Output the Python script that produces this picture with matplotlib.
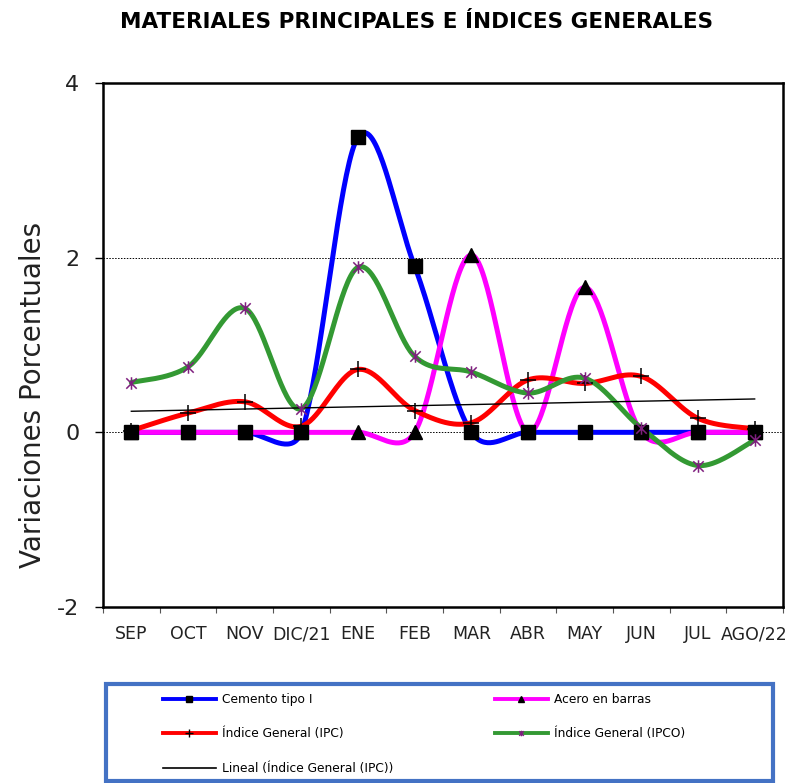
import numpy as np
import matplotlib
matplotlib.use("Agg")
import matplotlib.pyplot as plt
from matplotlib.path import Path
from matplotlib.lines import Line2D
from matplotlib.patches import Rectangle

meses = ["SEP", "OCT", "NOV", "DIC/21", "ENE", "FEB", "MAR", "ABR", "MAY", "JUN", "JUL", "AGO/22"]
cemento = [0, 0, 0, 0, 3.38, 1.90, 0, 0, 0, 0, 0, 0]
acero = [0, 0, 0, 0, 0, 0, 2.03, 0, 1.66, 0, 0, 0]
ipc = [0.02, 0.22, 0.35, 0.07, 0.72, 0.25, 0.11, 0.60, 0.56, 0.64, 0.16, 0.04]
ipco = [0.57, 0.75, 1.42, 0.27, 1.89, 0.87, 0.69, 0.45, 0.62, 0.05, -0.38, -0.09]
y_ticks = [-2, 0, 2, 4]

# pixel size of one unit on each axis, used so the smoothing works in screen space
SX, SY = 680 / 12, 524 / 6


def smooth(x, y, n=40):
    # excel-like smoothed line: catmull-rom bezier, arms capped at half the segment
    p = np.column_stack([np.asarray(x, float) * SX, np.asarray(y, float) * SY])
    p = np.vstack([p[0], p, p[-1]])
    t = np.linspace(0, 1, n)[:, None]
    out = []
    for i in range(1, len(p) - 2):
        p0, p3 = p[i], p[i + 1]
        seg = np.linalg.norm(p3 - p0)
        a1 = (p3 - p[i - 1]) / 6
        a2 = (p[i + 2] - p0) / 6
        for a in (a1, a2):
            la = np.linalg.norm(a)
            if la > seg / 2:
                a *= (seg / 2) / la
        c1 = p0 + a1
        c2 = p3 - a2
        b = (1 - t) ** 3 * p0 + 3 * (1 - t) ** 2 * t * c1 + 3 * (1 - t) * t ** 2 * c2 + t ** 3 * p3
        out.append(b)
    b = np.vstack(out)
    return b[:, 0] / SX, b[:, 1] / SY


# excel "star" marker: x plus a vertical bar
star = Path([(-1, -1), (1, 1), (-1, 1), (1, -1), (0, -1.2), (0, 1.2)],
            [Path.MOVETO, Path.LINETO, Path.MOVETO, Path.LINETO, Path.MOVETO, Path.LINETO])

x = np.arange(len(meses))
fig = plt.figure(figsize=(7.98, 7.83), dpi=100)
ax = fig.add_axes([103 / 798, 1 - 607 / 783, 680 / 798, 524 / 783])

series = [
    (cemento, "#0000FF", "s", 10.5),
    (acero, "#FF00FF", "^", 9.5),
    (ipc, "#FF0000", "+", 12),
    (ipco, "#339933", star, 9),
]
for vals, color, mk, ms in series:
    sx, sy = smooth(x, vals)
    ax.plot(sx, sy, color=color, lw=3.6, solid_capstyle="round", zorder=2)

# trend of IPC
coef = np.polyfit(x, ipc, 1)
ax.plot(x, np.polyval(coef, x), color="black", lw=1.0, zorder=3)

for vals, color, mk, ms in series:
    if mk is star:
        ax.plot(x, vals, ls="none", marker=mk, ms=ms, mec="#7F1F7F", mew=1.1, zorder=4)
    elif mk == "+":
        ax.plot(x, vals, ls="none", marker=mk, ms=ms, mec="black", mew=1.1, zorder=4)
    else:
        ax.plot(x, vals, ls="none", marker=mk, ms=ms, mfc="black", mec="black", zorder=4)

ax.set_xlim(-0.5, len(meses) - 0.5)
ax.set_ylim(-2, 4)
ax.set_yticks(y_ticks)
ax.set_yticklabels([str(v) for v in y_ticks], fontsize=16, color="#222222")
ax.tick_params(axis="y", length=6, width=1, pad=11)
ax.set_xticks(np.arange(-0.5, len(meses)), minor=False)
ax.set_xticklabels([])
ax.set_xticks(x, minor=True)
ax.set_xticklabels(meses, minor=True, fontsize=12.5, color="#222222")
ax.tick_params(axis="x", which="major", length=4.5, width=0.8, color="#555555")
ax.tick_params(axis="x", which="minor", length=0, pad=13)
for v in [0, 2]:
    ax.axhline(v, color="black", lw=0.7, ls=(0, (1.5, 1.5)), zorder=1)
for s in ax.spines.values():
    s.set_linewidth(1.8)

fig.text(417 / 798, 1 - 22 / 783, "MATERIALES PRINCIPALES E ÍNDICES GENERALES",
         ha="center", va="center", fontsize=15.5, fontweight="bold")
fig.text(33 / 798, 1 - 395 / 783, "Variaciones Porcentuales", rotation=90,
         ha="center", va="center", fontsize=20, color="#222222")

# legend box
fig.patches.append(Rectangle((106 / 798, 1 - 781 / 783), 667 / 798, 97 / 783,
                             transform=fig.transFigure, fill=False,
                             edgecolor="#4472C4", lw=3))


def handle(color, mk, ms, mec="black", lw=2.8):
    return Line2D([], [], color=color, lw=lw, marker=mk, ms=ms, mfc="black", mec=mec, mew=1)


col1 = [handle("#0000FF", "s", 5), handle("#FF0000", "+", 6),
        Line2D([], [], color="black", lw=1.2)]
col2 = [handle("#FF00FF", "^", 5), handle("#339933", star, 4, mec="#7F1F7F")]
names1 = ["Cemento tipo I", "Índice General (IPC)", "Lineal (Índice General (IPC))"]
names2 = ["Acero en barras", "Índice General (IPCO)"]
for hs, ns, x0 in [(col1, names1, 163), (col2, names2, 495)]:
    fig.legend(hs, ns, loc="upper left", bbox_to_anchor=(x0 / 798, 1 - 693 / 783),
               frameon=False, fontsize=8.8, handlelength=4.3, handletextpad=0.5,
               borderpad=0, borderaxespad=0, labelspacing=1.75)

fig.savefig("out.png", dpi=100)
